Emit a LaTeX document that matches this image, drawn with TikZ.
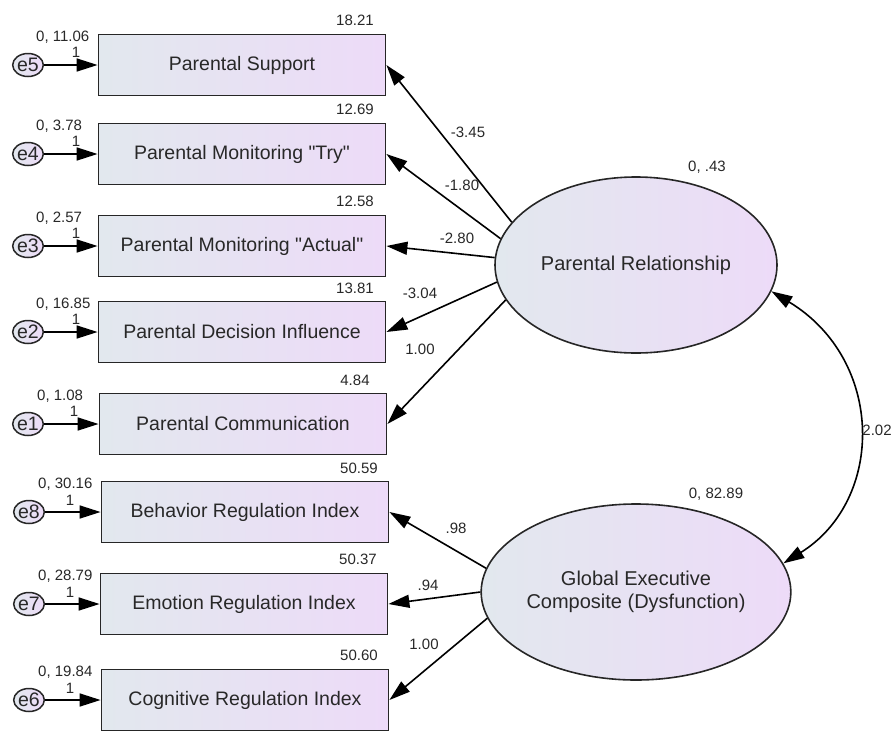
\documentclass[tikz,border=0pt]{standalone}
\usepackage{fontspec}
\setmainfont{Liberation Sans}
\usetikzlibrary{shapes.geometric,arrows.meta}
\definecolor{lc}{RGB}{226,232,238}
\definecolor{rc}{RGB}{237,219,248}
\definecolor{txt}{RGB}{40,40,40}
\begin{document}
\begin{tikzpicture}[x=1pt,y=-1pt,
 obs/.style={draw=black!85,line width=1.8pt,minimum width=287pt,minimum height=61pt,left color=lc,right color=rc,font=\fontsize{19.5}{23}\selectfont,text=txt,inner sep=0pt},
 lat/.style={ellipse,draw=black!85,line width=1.6pt,minimum width=282pt,minimum height=176pt,left color=lc,right color=rc,font=\fontsize{20}{23}\selectfont,text=txt,align=center,inner sep=0pt},
 err/.style={ellipse,draw=black!85,line width=1.5pt,minimum width=30pt,minimum height=23pt,inner sep=0pt,left color=lc,right color=rc,font=\fontsize{19.5}{20}\selectfont,text=txt},
 sm/.style={font=\fontsize{15}{17}\selectfont,text=txt,inner sep=0pt},
 arr/.style={-{Triangle[length=21pt,width=13pt]},line width=1.6pt},
 cov/.style={{Triangle[length=21pt,width=13pt]}-{Triangle[length=21pt,width=13pt]},line width=1.6pt},
]
\useasboundingbox (0,0) rectangle (896,734);

% observed boxes
\node[obs] (b1) at (242,65)  {Parental Support};
\node[obs] (b2) at (242,154) {Parental Monitoring \textquotedbl Try\textquotedbl};
\node[obs] (b3) at (242,246) {Parental Monitoring \textquotedbl Actual\textquotedbl};
\node[obs] (b4) at (242,332) {Parental Decision Influence};
\node[obs] (b5) at (243,424) {Parental Communication};
\node[obs] (b6) at (245,512) {Behavior Regulation Index};
\node[obs] (b7) at (244,604) {Emotion Regulation Index};
\node[obs] (b8) at (245,700) {Cognitive Regulation Index};

% intercept labels
\node[sm] (v1) at (355,20)  {18.21};
\node[sm] (v2) at (355,109) {12.69};
\node[sm] (v3) at (355,201) {12.58};
\node[sm] (v4) at (355,288) {13.81};
\node[sm] (v5) at (355,380) {4.84};
\node[sm] (v6) at (359,468) {50.59};
\node[sm] (v7) at (358,559) {50.37};
\node[sm] (v8) at (359,655) {50.60};

% error terms
\node[err] (e5) at (28,65)  {e5};
\node[err] (e4) at (28,154) {e4};
\node[err] (e3) at (28,246) {e3};
\node[err] (e2) at (28,332) {e2};
\node[err] (e1) at (28,424) {e1};
\node[err] (e8) at (29,512) {e8};
\node[err] (e7) at (29,604) {e7};
\node[err] (e6) at (29,700) {e6};

\node[sm,anchor=west] (ev5) at (36,37)  {0, 11.06};
\node[sm,anchor=west] (ev4) at (36,126) {0, 3.78};
\node[sm,anchor=west] (ev3) at (36,218) {0, 2.57};
\node[sm,anchor=west] (ev2) at (36,304) {0, 16.85};
\node[sm,anchor=west] (ev1) at (37,396) {0, 1.08};
\node[sm,anchor=west] (ev8) at (38,484) {0, 30.16};
\node[sm,anchor=west] (ev7) at (38,576) {0, 28.79};
\node[sm,anchor=west] (ev6) at (38,672) {0, 19.84};

\node[sm] (w5) at (76,52)  {1};
\node[sm] (w4) at (76,141) {1};
\node[sm] (w3) at (76,233) {1};
\node[sm] (w2) at (76,319) {1};
\node[sm] (w1) at (74,411) {1};
\node[sm] (w8) at (70,500) {1};
\node[sm] (w7) at (70,592) {1};
\node[sm] (w6) at (70,688) {1};

\draw[arr] (e5) -- (b1.west);
\draw[arr] (e4) -- (b2.west);
\draw[arr] (e3) -- (b3.west);
\draw[arr] (e2) -- (b4.west);
\draw[arr] (e1) -- (b5.west);
\draw[arr] (e8) -- (b6.west);
\draw[arr] (e7) -- (b7.west);
\draw[arr] (e6) -- (b8.west);

% latent variables
\node[lat] (PR) at (636,265) {Parental Relationship};
\node[lat] (GE) at (636,592) {Global Executive\\Composite (Dysfunction)};
\node[sm] (pv) at (707,167) {0, .43};
\node[sm] (gv) at (716,494) {0, 82.89};

% loadings
\draw[arr] (PR.161) -- (b1.east);
\draw[arr] (PR.169) -- (b2.east);
\draw[arr] (PR.177) -- (b3.east);
\draw[arr] (PR.187) -- (b4.east);
\draw[arr] (PR.195) -- (b5.east);
\draw[arr] (GE.171) -- (b6.east);
\draw[arr] (GE.180) -- (b7.east);
\draw[arr] (GE.190) -- (b8.east);

\node[sm] (l1) at (468,132) {-3.45};
\node[sm] (l2) at (462,185) {-1.80};
\node[sm] (l3) at (457,238) {-2.80};
\node[sm] (l4) at (420,293) {-3.04};
\node[sm] (l5) at (420,349) {1.00};
\node[sm] (l6) at (456,528) {.98};
\node[sm] (l7) at (428,585) {.94};
\node[sm] (l8) at (424,644) {1.00};

% covariance
\draw[cov] (GE.11) .. controls (885,500) and (885,360) .. (PR.349);
\node[sm] (cv) at (877,430) {2.02};
\end{tikzpicture}
\end{document}
